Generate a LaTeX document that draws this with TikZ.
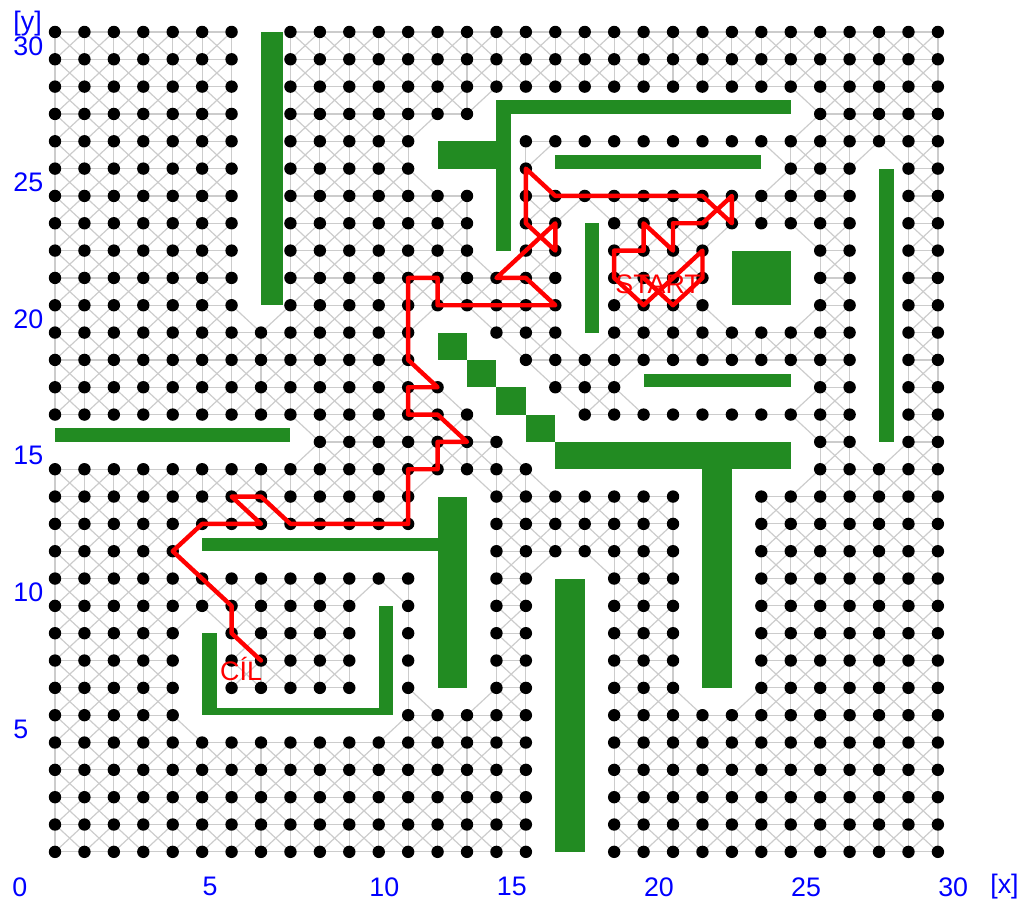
\documentclass[tikz,border=0pt]{standalone}
\usepackage{fontspec}
\setmainfont{Liberation Sans}
\definecolor{obst}{RGB}{34,139,34}
\definecolor{edgec}{RGB}{204,204,204}
\definecolor{axisc}{RGB}{0,0,255}
\newcommand\blockrange[4]{\foreach \i in {#1,...,#2}{\foreach \j in {#3,...,#4}{\expandafter\gdef\csname rm-\i-\j\endcsname{}}}}
\begin{document}
\begin{tikzpicture}[x=14.715pt,y=13.665pt,
  dot/.style={circle,fill=black,inner sep=0pt,minimum size=6.2pt},
  link/.style={draw=edgec,line width=0.6pt},
  wall/.style={fill=obst},
  route/.style={draw=red,line width=2.2pt,line join=round,line cap=round},
  axislab/.style={text=axisc,font=\fontsize{13.4}{14}\selectfont,inner sep=0pt,anchor=west},
  marker/.style={text=red,font=\fontsize{13.4}{14}\selectfont,inner sep=0pt,anchor=west}]
\useasboundingbox (-1.869,-1.903) rectangle (32.96,31.17);
% frame of the grid
\blockrange{-1}{-1}{-1}{31}\blockrange{31}{31}{-1}{31}
\blockrange{-1}{31}{-1}{-1}\blockrange{-1}{31}{31}{31}
% grid points covered by obstacles
\blockrange{7}{7}{20}{30}
\blockrange{0}{8}{15}{15}
\blockrange{15}{25}{27}{27}
\blockrange{15}{15}{22}{27}
\blockrange{13}{15}{25}{26}
\blockrange{17}{24}{25}{25}
\blockrange{18}{18}{19}{23}
\blockrange{23}{25}{20}{22}
\blockrange{28}{28}{15}{25}
\blockrange{20}{25}{17}{17}
\blockrange{13}{14}{18}{19}
\blockrange{14}{15}{17}{18}
\blockrange{15}{16}{16}{17}
\blockrange{16}{17}{15}{16}
\blockrange{17}{25}{14}{15}
\blockrange{22}{23}{6}{14}
\blockrange{13}{14}{6}{13}
\blockrange{5}{13}{11}{11}
\blockrange{17}{18}{0}{10}
\blockrange{5}{5}{5}{8}
\blockrange{5}{11}{5}{5}
\blockrange{11}{11}{5}{9}
% named grid points
\foreach \i in {0,...,30}{\foreach \j in {0,...,30}{\coordinate (n-\i-\j) at (\i,\j);}}
% links between free neighbouring points
\foreach \i in {0,...,30}{\foreach \j in {0,...,30}{%
  \ifcsname rm-\i-\j\endcsname\else
    \edef\ip{\the\numexpr\i+1\relax}\edef\jp{\the\numexpr\j+1\relax}\edef\im{\the\numexpr\i-1\relax}%
    \ifcsname rm-\ip-\j\endcsname\else\draw[link] (n-\i-\j) -- (n-\ip-\j);\fi
    \ifcsname rm-\i-\jp\endcsname\else\draw[link] (n-\i-\j) -- (n-\i-\jp);\fi
    \ifcsname rm-\ip-\jp\endcsname\else\draw[link] (n-\i-\j) -- (n-\ip-\jp);\fi
    \ifcsname rm-\im-\jp\endcsname\else\draw[link] (n-\i-\j) -- (n-\im-\jp);\fi
  \fi}}
% obstacles
\fill[wall] (7,20) rectangle (7.75,30);
\fill[wall] (0,15) rectangle (8,15.5);
\fill[wall] (15,27) rectangle (25,27.5);
\fill[wall] (15,22) rectangle (15.5,27.5);
\fill[wall] (13,25) rectangle (15,26);
\fill[wall] (17,25) rectangle (24,25.5);
\fill[wall] (18,19) rectangle (18.5,23);
\fill[wall] (23,20) rectangle (25,22);
\fill[wall] (28,15) rectangle (28.5,25);
\fill[wall] (20,17) rectangle (25,17.5);
\fill[wall] (13,18) rectangle (14,19);
\fill[wall] (14,17) rectangle (15,18);
\fill[wall] (15,16) rectangle (16,17);
\fill[wall] (16,15) rectangle (17,16);
\fill[wall] (17,14) rectangle (25,15);
\fill[wall] (22,6) rectangle (23,14);
\fill[wall] (13,6) rectangle (14,13);
\fill[wall] (5,11) rectangle (13,11.5);
\fill[wall] (17,0) rectangle (18,10);
\fill[wall] (5,5) rectangle (5.5,8);
\fill[wall] (5,5) rectangle (11.5,5.25);
\fill[wall] (11,5) rectangle (11.5,9);
% dots
\foreach \i in {0,...,30}{\foreach \j in {0,...,30}{%
  \ifcsname rm-\i-\j\endcsname\else\node[dot] (d-\i-\j) at (n-\i-\j) {};\fi}}
% route
\draw[route] (n-20-21) -- (n-21-20) -- (n-22-21) -- (n-22-22) -- (n-21-21) -- (n-20-20) -- (n-19-21)
  -- (n-19-22) -- (n-20-22) -- (n-20-23) -- (n-21-22) -- (n-21-23) -- (n-22-23)
  -- (n-23-24) -- (n-23-23) -- (n-22-24) -- (n-17-24) -- (n-16-25) -- (n-16-23)
  -- (n-17-22) -- (n-17-23) -- (n-15-21) -- (n-16-21) -- (n-17-20) -- (n-13-20)
  -- (n-13-21) -- (n-12-21) -- (n-12-18) -- (n-13-17) -- (n-12-17) -- (n-12-16)
  -- (n-13-16) -- (n-14-15) -- (n-13-15) -- (n-13-14) -- (n-12-14) -- (n-12-12)
  -- (n-8-12) -- (n-7-13) -- (n-6-13) -- (n-7-12) -- (n-5-12) -- (n-4-11)
  -- (n-6-9) -- (n-6-8) -- (n-7-7);
\node[marker] (start) at (19.03,20.78) {START};
\node[marker] (goal) at (5.6,6.69) {CÍL};
% axis labels
\node[axislab] (ylab) at (-1.427,30.3) {[y]};
\foreach \k in {5,10,...,30}{\node[axislab] (y\k) at (-1.427,\k-0.51) {\k};}
\node[axislab] (x0) at (-1.46,-1.28) {0};
\foreach \k in {5,15,20,25,30}{\node[axislab] (x\k) at (\k,-1.28) {\k};}
\node[axislab] (x10) at (10.67,-1.28) {10};
\node[axislab] (xlab) at (31.77,-1.28) {[x]};
\end{tikzpicture}
\end{document}
